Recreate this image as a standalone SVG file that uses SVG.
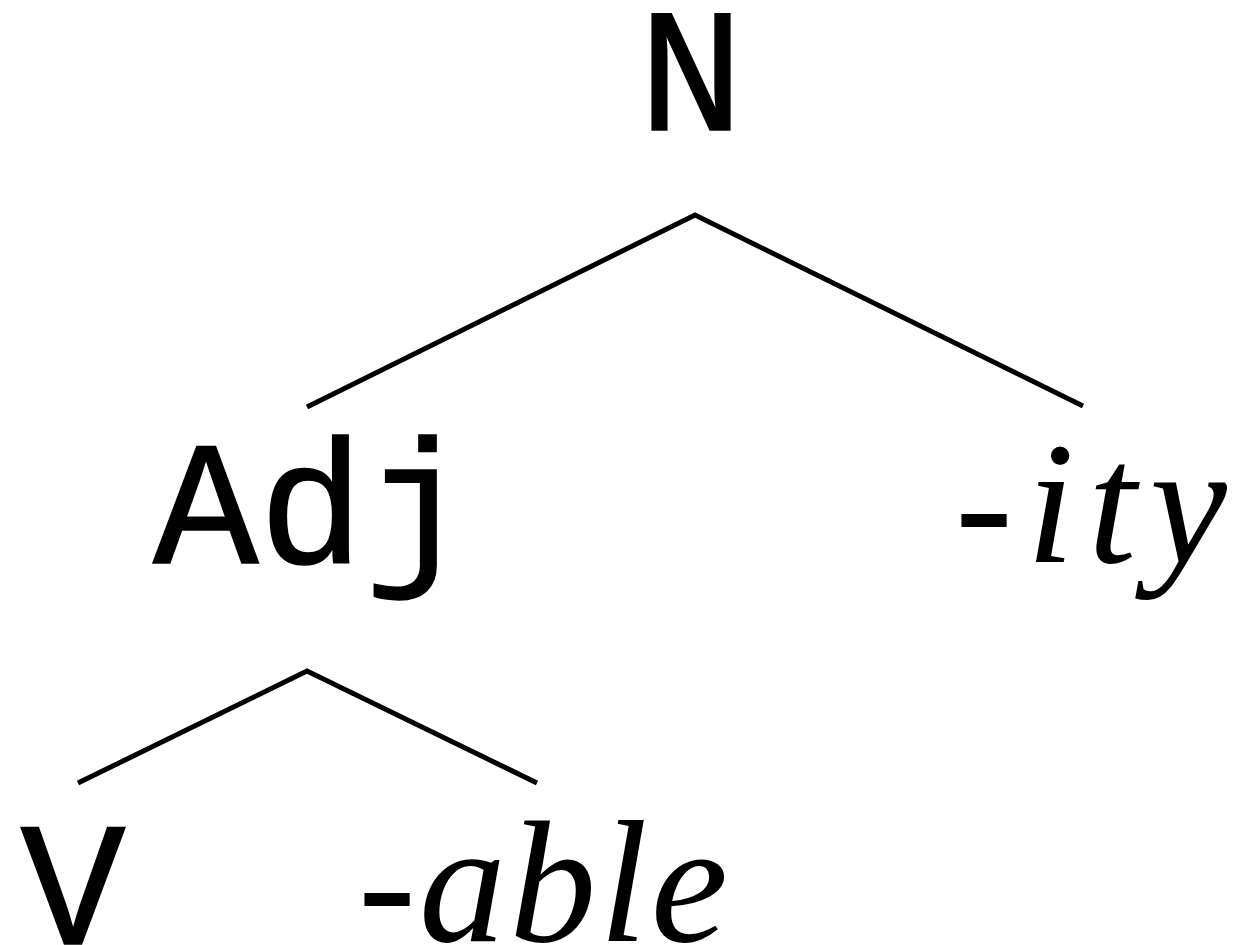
<svg xmlns="http://www.w3.org/2000/svg" width="1240" height="945" viewBox="0 0 1240 945">
<style>
.cat{font-size:176px;fill:#000;stroke:#000;stroke-width:1.5px}
.aff{font-size:174px;fill:#000}
.edge{stroke:#000;stroke-width:5;fill:none;stroke-linecap:butt;stroke-linejoin:miter}
</style>
<rect width="1240" height="945" fill="#fff"/>
<g id="connectors">
<polyline class="edge" points="307,407 695,215 1083,406"/>
<polyline class="edge" points="78,783 307,671 537,783"/>
</g>
<g font-family="Liberation Mono, monospace">
<g id="node-N"><text class="cat" x="691" y="130" text-anchor="middle">N</text></g>
<g id="node-Adj"><text class="cat" x="153" y="563">Adj</text></g>
<g id="node-V"><text class="cat" x="73" y="944" text-anchor="middle">V</text></g>
</g>
<g font-family="Liberation Serif, serif" font-style="italic">
<g id="node-ity"><text class="aff" x="955" y="562" textLength="272" lengthAdjust="spacing">-ity</text></g>
<g id="node-able"><text class="aff" x="358" y="941" textLength="370" lengthAdjust="spacing">-able</text></g>
</g>
</svg>
